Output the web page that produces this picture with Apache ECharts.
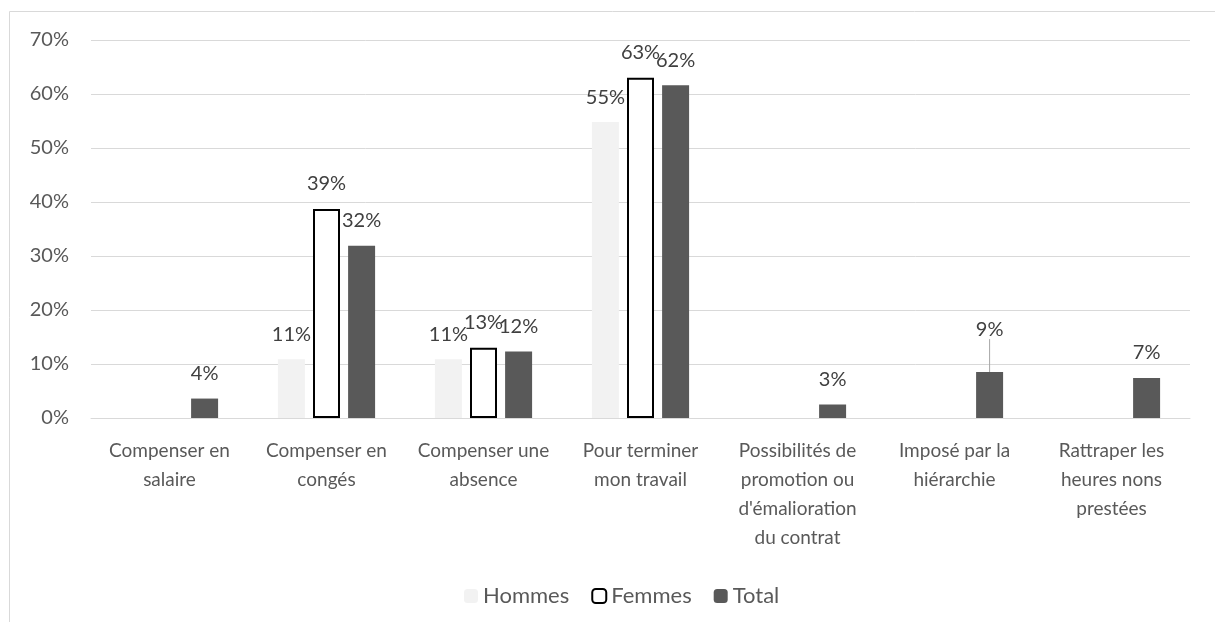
<!DOCTYPE html>
<html>
<head>
<meta charset="utf-8">
<script src="https://cdn.jsdelivr.net/npm/echarts@6/dist/echarts.min.js"></script>
<style>
  html, body { margin: 0; padding: 0; background: #fff; }
  #chart { width: 1215px; height: 622px; }
</style>
</head>
<body>
<div id="chart"></div>
<script>
// data (percent)
const categories = [
    'Compenser en\nsalaire',
    'Compenser en\ncongés',
    'Compenser une\nabsence',
    'Pour terminer\nmon travail',
    'Possibilités de\npromotion ou\nd\'émalioration\ndu contrat',
    'Imposé par la\nhiérarchie',
    'Rattraper les\nheures nons\nprestées'
];
const hommes = [null, 10.9, 10.9, 54.8, null, null, null];
const femmes = [null, 38.7, 13.0, 63.0, null, null, null];
const total = [3.6, 31.9, 12.3, 61.6, 2.5, 8.5, 7.4];
const movedLabel = 5; // the 9% label sits higher with a leader line

const fontFamily = 'Lato, "Open Sans", sans-serif';

const chartDom = document.getElementById('chart');
const myChart = echarts.init(chartDom);

const labelCfg = {
    show: true,
    position: 'top',
    distance: 15,
    color: '#404040',
    fontSize: 20,
    fontFamily: fontFamily,
    formatter: (p) => Math.round(p.value) + '%'
};

const totalData = total.map((v, i) =>
    i === movedLabel
        ? { value: v, labelLine: { show: true, lineStyle: { color: '#a6a6a6', width: 1 } } }
        : v
);

const option = {
    animation: false,
    graphic: [
        {
            type: 'rect',
            shape: { x: 9.5, y: 11.5, width: 1240, height: 700 },
            style: { fill: 'none', stroke: '#d9d9d9', lineWidth: 1 },
            silent: true
        }
    ],
    legend: {
        left: 459,
        top: 580,
        itemWidth: 14,
        itemHeight: 14,
        itemGap: 22,
        textStyle: { color: '#595959', fontSize: 22, fontFamily: fontFamily },
        data: ['Hommes', 'Femmes', 'Total']
    },
    grid: { left: 91, right: 25, top: 40, bottom: 204 },
    xAxis: {
        type: 'category',
        data: categories,
        axisLine: { lineStyle: { color: '#d9d9d9' } },
        axisTick: { show: false },
        axisLabel: {
            interval: 0,
            margin: 18,
            color: '#595959',
            fontSize: 19,
            lineHeight: 29,
            fontFamily: fontFamily
        }
    },
    yAxis: {
        type: 'value',
        min: 0,
        max: 70,
        interval: 10,
        axisLine: { show: false },
        axisTick: { show: false },
        splitLine: { lineStyle: { color: '#d9d9d9' } },
        axisLabel: {
            margin: 22,
            color: '#595959',
            fontSize: 20,
            fontFamily: fontFamily,
            formatter: '{value}%'
        }
    },
    series: [
        {
            name: 'Hommes',
            type: 'bar',
            barWidth: 27,
            barGap: '30%',
            data: hommes,
            itemStyle: { color: '#f2f2f2' },
            label: labelCfg
        },
        {
            name: 'Femmes',
            type: 'bar',
            barWidth: 27,
            barGap: '30%',
            data: femmes,
            itemStyle: { color: '#ffffff', borderColor: '#000000', borderWidth: 2 },
            label: labelCfg
        },
        {
            name: 'Total',
            type: 'bar',
            barWidth: 27,
            barGap: '30%',
            data: totalData,
            itemStyle: { color: '#595959' },
            label: labelCfg,
            labelLayout: (params) => {
                if (params.dataIndex === movedLabel) return { dy: -18 };
                return {};
            }
        }
    ]
};

myChart.setOption(option);
</script>
</body>
</html>
